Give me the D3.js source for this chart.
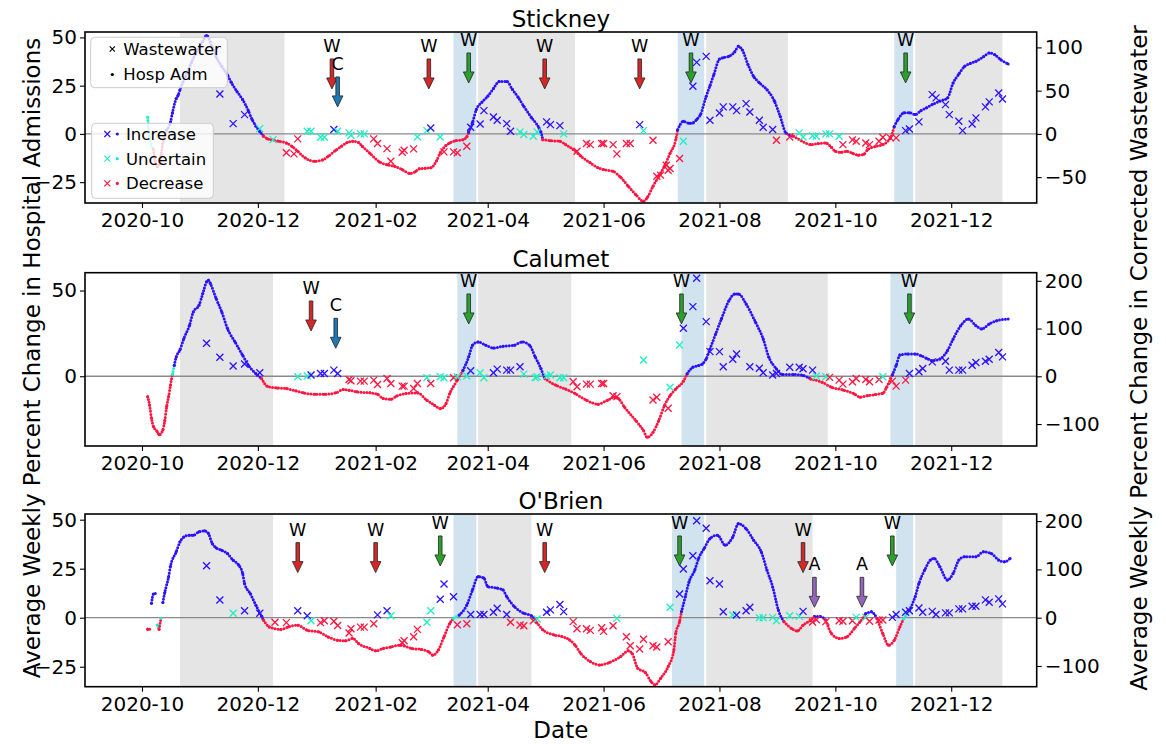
<!DOCTYPE html>
<html>
<head>
<meta charset="utf-8">
<script src="https://cdn.jsdelivr.net/npm/d3@7"></script>
<style>
    body { margin: 0; background: #fff; }
    svg text { font-family: "DejaVu Sans", sans-serif; }
</style>
</head>
<body>
<div id="chart-area"></div>
<script>
/*
*    Weekly percent change: hospital admissions (dots, left axis)
*    vs corrected wastewater (crosses, right axis), three sewersheds
*/

// x tick labels and class labels
let xTicks = ["2020-10", "2020-12", "2021-02", "2021-04", "2021-06", "2021-08", "2021-10", "2021-12"];
let markerLabels = ["Wastewater", "Hosp Adm"];
let classLabels = ["Increase", "Uncertain", "Decrease"];
let classKeys = ["i", "u", "d"];

// hospital admissions: [days after 2020-10-01, % change, optional class]
let stickneyHosp = [[3,8.6,"u"],[4,-2,"u"],[6,-8],[7,-14],[8,-17],[9,-16],[10,-11],[11,-5],[13,2],[15,6.2],[16,10.9],[18,18.3],[19,20],[20,22.9],[23,30],[26,37],[29,43],[32,48],[34,51],[37,45],[39,40],[42,35],[45,30.5],[47,26.7],[50,22],[53,17.8],[56,12],[58,7.4],[60,4],[62,1.3],
  [64,-1.2],[66,-2.5],[68,-3],[72,-3.8],[76,-4.7],[79,-6.5],[82,-9],[86,-12.5],[91,-14.2],[95,-13.5],[98,-11.6],[102,-8.5],[105,-6.4],[108,-4.5],[111,-3.8],[114,-4.5],[116,-6.4],[120,-10],[125,-14.5],[129,-16],[133,-16.8],[137,-18.5],[141,-20.5],[144,-19.5],[146,-18],[149,-17.8],[152,-17.6],[155,-14],[157,-9.8],[160,-6],[162,-4.7],[165,-3.6],[169,-3],[171,-1.5],
  [172,1],[174,6],[176,12.6],[179,16.5],[182,19.5],[185,23.5],[188,27.2],[192,27.2],[195,23],[198,19],[201,14.3],[205,8.5],[209,3.1],[210,1],
  [211,-3],[215,-3.5],[220,-3.8],[223,-5.5],[227,-8.1],[231,-11.5],[236,-15],[240,-17.5],[243,-18.5],[248,-19.4],[252,-22.5],[256,-27.1],[260,-31.5],[264,-34.9],[266,-33],[269,-27.1],[272,-22],[275,-16.8],[278,-10],[281,-3],
  [282,2.2],[285,6.5],[288,5.5],[290,5.7],[292,7.5],[294,10],[297,19.5],[299,25],[301,30.7],[304,38.8],[306,39.5],[309,40.2],[312,42.5],[314,45.4],[316,43.5],[319,36],[322,29.8],[325,26.5],[329,22.9],[333,16.9],[336,9],[339,0.5],
  [343,-1.2],[347,-3.5],[352,-5.5],[356,-5],[360,-4.7],[363,-7],[365,-9],[368,-9.5],[371,-9],[374,-10],[377,-11],[380,-10.5],[382,-8.1],[386,-6.5],[390,-5.5],[394,-2],
  [396,3.9],[398,7.5],[401,10.9],[404,11],[407,10],[410,12],[413,13.5],[416,15.2],[420,17],[424,18.6],[427,26.4],[430,31],[433,35],[436,36.5],[439,37.6],[443,40],[446,41.9],[449,41],[452,38.5],[456,36.2]];

let calumetHosp = [[3,-11.9],[4,-16.8],[5,-24.5],[6,-29.3],[8,-32.2],[9,-34.2],[11,-31.3],[12,-25.9],[13,-17.7],[14,-11.9],[15,-5.1],[16,1.1,"u"],
  [17,6.4],[18,11.2],[20,15.5],[22,21.9],[25,29.7],[27,37.5],[30,41.4],[32,48.2],[34,55.1],[35,56],[36,54.1],[39,45.4],[42,37.5],[45,27.8],[49,20],[53,12.2],[56,6.4],[60,1.5],
  [63,-1.4],[66,-5.9],[71,-6.8],[76,-7.2],[81,-8.5],[85,-9.7],[91,-10.5],[96,-10.5],[102,-9.7],[106,-7.8],[109,-8.2],[113,-9.1],[120,-9.7],[124,-10.5],[127,-13],[131,-13.4],[134,-11.6],[139,-10.1],[145,-9.7],[150,-14],[154,-16.9],[157,-18.9],[160,-16],[162,-10.1],[166,-2.3],
  [169,3.5],[172,11.3],[174,18.1],[177,20],[181,18.1],[185,16.5],[190,17.5],[196,18.1],[200,20],[204,18.1],[207,11.3],[210,4.5],
  [212,-1.4],[218,-5.3],[223,-7.5],[228,-10.1],[234,-14],[240,-16.3],[245,-14],[249,-12.2],[251,-13.2],[254,-18],[260,-25.9],[264,-31.7],[266,-35.6],[269,-32.7],[272,-25.9],[275,-17.2],[278,-11.3],[281,-7.4],[285,-2.9],
  [287,1.4],[290,5.3],[293,6.2],[295,7.2],[297,10.1],[299,15.9],[302,24.7],[305,33.4],[309,44.1],[312,48],[314,48],[318,42.2],[323,31.5],[327,21.8],[330,11.1],[334,4.3],[337,1],[343,1],[348,0.5],
  [352,-1.6],[358,-3.5],[363,-6.4],[369,-8],[375,-10.3],[378,-12.2],[382,-11.3],[386,-10.7],[390,-9.9],[392,-6.4],
  [395,0.8],[397,6.2],[399,12.4],[403,13],[407,13],[410,12],[413,10.5],[416,9.1],[420,10.1],[424,14.9],[427,21.7],[431,29.5],[435,33.4],[439,29.5],[442,27.6],[446,30.5],[450,32.4],[456,33.4]];

let obrienHosp = [[3,-5.9],[4,-5.9],[5,7.4],[6,12.1],[7,12.4],[8,-3.7,"u"],[9,-5.9],[10,-0.3,"u"],
  [11,7.8],[12,12.9],[14,20.8],[15,26.3],[18,33.6],[20,38.7],[22,41.2],[25,42.1],[27,42.1],[30,43.8],[33,44.3],[35,42.9],[37,37.8],[39,35.7],[42,34.4],[45,32.7],[48,29.3],[51,26.7],[53,22.5],[54,17.4],[57,12.3],[60,6.3],[62,2.4],
  [64,-1.3],[67,-4.7],[73,-6],[77,-4.7],[82,-3.8],[87,-6.4],[93,-7.2],[98,-9.8],[103,-11.5],[107,-11.8],[111,-10.6],[114,-13.2],[120,-15.7],[123,-16.9],[127,-15.7],[131,-14.9],[136,-14],[142,-15.7],[147,-16.2],[151,-17.4],[153,-19.1],[156,-16.5],[159,-9.7],[162,-2.9],[164,-0.3,"u"],
  [167,1.4],[171,6.5],[174,14.2],[177,21],[180,20.2],[182,15.9],[187,15.1],[190,14.2],[192,10.8],[196,5.7],[201,2.3],[205,1],
  [207,-1.1],[211,-6.2],[217,-8.8],[221,-9.6],[225,-11.3],[228,-14],[231,-18.2],[236,-22.4],[241,-24.1],[246,-22.9],[252,-19.8],[256,-16.9],[258,-18.2],[261,-25.8],[265,-28],[268,-32.6],[270,-34.3],[273,-30.9],[277,-24.9],[280,-16.5],[281,-7.9],[283,-2],
  [284,3.1],[286,10.7],[288,18.4],[291,24.3],[293,30.2],[296,35.4],[299,40.4],[303,42.1],[307,37],[311,41.2],[314,48],[318,45.4],[322,39.5],[326,33.6],[329,24.3],[332,15.8],[335,3.9],
  [338,-2.1],[342,-5.5],[345,-6.8],[348,-3.8],[352,-1.3],[354,0.6],[357,0.6],[360,-1.3],[363,-8.1],[367,-10.6],[371,-9.8],[375,-5.5],[378,-2.1],[381,2.1],[384,3],
  [387,-0.6],[390,-8.1],[393,-14],[396,-11.5],[399,-4.6],[401,-0.4,"u"],
  [404,3.9],[407,10.7],[409,17.5],[412,24.3],[415,29.4],[417,30.2],[420,26],[424,19.2],[427,22.6],[430,29.4],[433,31.1],[439,31.1],[443,33.6],[447,32.8],[451,29.4],[454,28.5],[457,30.2]];

// wastewater: [days after 2020-10-01, % change, class]
let stickneyWW = [[41,46.2,"i"],[48,11.9,"i"],[54,22.3,"i"],[62,6.1,"u"],[69,-6.6,"u"],[76,-21.9,"d"],[80,-23.1,"d"],[82,-5.8,"d"],[87,3,"u"],[89,3,"u"],[94,-3.9,"u"],[96,-3.9,"u"],[101,5,"i"],[103,3,"u"],[109,1.2,"u"],[110,-1.5,"u"],[115,0,"u"],[117,0,"u"],[122,-5.8,"d"],[124,-11.2,"d"],[129,-17,"d"],[131,-31.6,"d"],[137,-21.2,"d"],[138,-18.9,"d"],[143,-17.3,"d"],[145,-3.5,"u"],[150,3.8,"u"],[152,6.9,"i"],[157,-3.5,"u"],[159,-20.8,"d"],[164,-20.8,"d"],[166,-21.9,"d"],[171,-14.3,"d"],[173,7.6,"i"],[178,11.5,"i"],[180,26.9,"i"],[185,19.6,"i"],[187,15.7,"i"],[192,11.9,"i"],[194,3,"i"],[199,2.3,"u"],[201,-0.8,"u"],[206,-2.8,"u"],[208,2.3,"u"],[213,13.9,"i"],[215,10.7,"i"],[220,9.6,"i"],[222,0,"u"],[229,-20.1,"d"],[234,-11.2,"d"],[236,-12.4,"d"],[242,-11.2,"d"],[243,-11.2,"d"],[248,-12.4,"d"],[250,-23.1,"d"],[255,-11.2,"d"],[257,-11.2,"d"],[262,10.7,"i"],[264,3.8,"u"],[269,-7.4,"d"],[271,-48.9,"d"],[273,-47.7,"d"],[276,-36.2,"d"],[277,-42,"d"],[278,-40,"d"],[283,-28.5,"d"],[285,-8.5,"u"],[290,55,"i"],[292,82.7,"i"],[297,89.6,"i"],[299,15.7,"i"],[304,24.2,"i"],[306,31.2,"i"],[311,31.2,"i"],[313,26.9,"i"],[318,35,"i"],[320,25.4,"i"],[325,15.7,"i"],[327,7.6,"i"],[332,5,"i"],[334,-7.4,"d"],[341,-3.5,"d"],[346,1.2,"u"],[348,-3.5,"u"],[353,-2.3,"u"],[355,-2.8,"u"],[360,0,"u"],[362,0,"u"],[367,-2.8,"u"],[369,-12.4,"d"],[374,-6.9,"d"],[376,-8.5,"d"],[381,-10.5,"d"],[383,-12.4,"d"],[388,-8.5,"d"],[390,-3.9,"d"],[394,-4.6,"d"],[397,-4.6,"d"],[402,3.8,"i"],[404,5.7,"i"],[409,13.9,"i"],[416,45.4,"i"],[418,41.6,"i"],[423,33.8,"i"],[425,22.3,"i"],[430,14.6,"i"],[432,3.8,"i"],[437,11.5,"i"],[439,18.5,"i"],[444,31.2,"i"],[446,37,"i"],[451,47.3,"i"],[453,40.4,"i"]];

let calumetWW = [[34,69.2,"i"],[41,39.8,"i"],[48,21.6,"i"],[54,25.8,"i"],[62,7.6,"i"],[82,-0.8,"u"],[87,0.6,"u"],[89,2.8,"i"],[94,5.9,"i"],[96,5.9,"i"],[101,12.9,"i"],[103,5.9,"i"],[109,-6.6,"d"],[110,-9.4,"d"],[115,-10.1,"d"],[117,-10.1,"d"],[122,-8,"d"],[124,-17.1,"d"],[129,-4.5,"d"],[131,-15,"d"],[137,-20.6,"d"],[138,-20.6,"d"],[143,-25.5,"d"],[145,-15,"d"],[150,-3.1,"u"],[152,-15,"d"],[157,-0.8,"u"],[159,-3.1,"u"],[164,-3.1,"d"],[166,-0.8,"u"],[171,0.6,"u"],[173,11.5,"i"],[178,7.3,"u"],[180,-3.1,"u"],[185,7.3,"i"],[187,15,"i"],[192,12.9,"i"],[194,12.9,"i"],[199,19.9,"i"],[201,4.5,"u"],[207,-3.1,"u"],[208,-0.8,"u"],[213,0.6,"u"],[215,2.8,"u"],[220,-3.1,"u"],[222,-3.1,"u"],[227,-11.5,"d"],[229,-22,"d"],[234,-16.4,"d"],[236,-16.4,"d"],[242,-15,"d"],[243,-15,"d"],[248,-40.6,"d"],[250,-42.5,"d"],[264,34.2,"u"],[269,-49.7,"d"],[271,-44,"d"],[277,-67.1,"d"],[278,-23.1,"u"],[283,65.6,"u"],[285,100.6,"i"],[290,145.9,"i"],[292,205.4,"i"],[297,114.5,"i"],[299,51.6,"i"],[304,51.6,"i"],[306,20.1,"i"],[311,35.6,"i"],[313,46.8,"i"],[320,20.1,"i"],[325,16.8,"i"],[327,7.6,"i"],[332,2.8,"i"],[334,5.9,"i"],[341,18.9,"i"],[346,18.9,"i"],[348,15.7,"i"],[353,12.9,"i"],[355,0.6,"u"],[360,-0.8,"u"],[362,-2.2,"d"],[367,-8,"d"],[369,-16.4,"d"],[374,-11.5,"d"],[376,-4.5,"d"],[381,-6.6,"d"],[383,-11.5,"d"],[388,-6.6,"d"],[390,-0.8,"u"],[395,-10.1,"d"],[397,-20.6,"d"],[402,-8,"d"],[404,5.9,"i"],[409,9.4,"i"],[411,16.3,"i"],[416,30.2,"i"],[423,31.6,"i"],[425,12.9,"i"],[430,12.9,"i"],[432,12.9,"i"],[437,23.3,"i"],[439,28.9,"i"],[444,31.6,"i"],[446,35.8,"i"],[451,49.7,"i"],[453,40.6,"i"]];

let obrienWW = [[34,107.7,"i"],[41,36.6,"i"],[48,9.1,"u"],[54,14.5,"i"],[62,9.1,"i"],[70,-9.5,"d"],[76,-10.2,"d"],[82,14.5,"i"],[87,4.1,"i"],[89,-6.2,"u"],[94,-10.2,"d"],[96,-6.2,"d"],[101,-7.5,"d"],[103,-16.1,"d"],[109,-31.8,"d"],[110,-22.8,"d"],[115,-19.5,"d"],[117,-19.5,"d"],[122,-12.6,"d"],[124,5.9,"i"],[129,14.5,"i"],[131,4.1,"u"],[137,-51.8,"d"],[138,-47.6,"d"],[143,-39.3,"d"],[145,-24.2,"d"],[150,-9.5,"u"],[152,14.5,"u"],[157,38.1,"i"],[159,69.8,"i"],[164,43.5,"i"],[166,-14.5,"d"],[171,-12.6,"d"],[173,6.6,"i"],[178,6.6,"i"],[180,6.6,"i"],[185,11.3,"i"],[187,19.5,"i"],[192,6.6,"i"],[194,-9.5,"d"],[199,-15.3,"d"],[201,-16.7,"d"],[206,-6.2,"d"],[208,-2.7,"u"],[213,11.3,"i"],[215,16.1,"i"],[220,27.2,"i"],[222,12.6,"i"],[227,-8.2,"d"],[229,-22.8,"d"],[234,-22.8,"d"],[236,-26.2,"d"],[242,-20.7,"d"],[243,-28.3,"d"],[248,-16.7,"d"],[250,-1.4,"u"],[255,-39.3,"d"],[257,-58,"d"],[262,-64.8,"d"],[264,-44.7,"d"],[269,-58,"d"],[271,-60.7,"d"],[277,-49.7,"d"],[278,21.5,"u"],[283,49.1,"i"],[285,100.8,"i"],[290,128.4,"i"],[292,200.8,"i"],[297,185.1,"i"],[299,76.6,"i"],[304,69.8,"i"],[306,12.4,"i"],[311,5.6,"u"],[313,5.6,"i"],[318,14.5,"i"],[320,21.5,"i"],[325,0,"u"],[327,0,"u"],[332,0.7,"u"],[334,-6.2,"u"],[341,4.1,"u"],[346,2.8,"u"],[348,13.1,"i"],[353,-8.8,"d"],[355,-4.1,"d"],[360,-8.2,"d"],[367,-6.2,"d"],[369,-7.5,"d"],[374,-6.2,"d"],[376,0.7,"u"],[381,0.7,"u"],[383,-7.5,"d"],[388,-4.8,"d"],[390,-4.8,"d"],[395,0.7,"i"],[397,6.6,"i"],[402,11.3,"i"],[404,14.5,"i"],[409,20,"i"],[411,11.3,"i"],[416,13.1,"i"],[418,6.6,"i"],[423,10,"i"],[425,10,"i"],[430,18.2,"i"],[432,18.2,"i"],[437,23.7,"i"],[439,23.7,"i"],[444,36.8,"i"],[446,32,"i"],[451,38.9,"i"],[453,28.6,"i"]];

// shaded periods
let stickneyGrey = [["2020-10-21","2020-12-15"],["2021-03-27","2021-05-17"],["2021-07-25","2021-09-06"],["2021-11-12","2021-12-28"]];
let stickneyBlue = [["2021-03-14","2021-03-26"],["2021-07-10","2021-07-24"],["2021-11-01","2021-11-11"]];
let calumetGrey = [["2020-10-21","2020-12-09"],["2021-03-27","2021-05-15"],["2021-07-25","2021-09-27"],["2021-11-12","2021-12-28"]];
let calumetBlue = [["2021-03-16","2021-03-26"],["2021-07-12","2021-07-24"],["2021-10-30","2021-11-11"]];
let obrienGrey = [["2020-10-21","2020-12-09"],["2021-03-27","2021-04-24"],["2021-07-25","2021-09-19"],["2021-11-12","2021-12-28"]];
let obrienBlue = [["2021-03-14","2021-03-26"],["2021-07-07","2021-07-24"],["2021-11-02","2021-11-11"]];

// annotations: [date, label, kind, arrow tip on left axis]
let stickneyArrows = [["2021-01-09","W","red",23.3],["2021-01-12","C","blue",14],["2021-03-01","W","red",23.3],["2021-03-22","W","green",26.4],["2021-05-01","W","red",23.3],["2021-06-20","W","red",23.3],["2021-07-17","W","green",26.4],["2021-11-07","W","green",26.4]];
let calumetArrows = [["2020-12-29","W","red",26.4],["2021-01-11","C","blue",16.3],["2021-03-22","W","green",30.5],["2021-07-12","W","green",30.5],["2021-11-09","W","green",30.5]];
let obrienArrows = [["2020-12-22","W","red",23],["2021-02-01","W","red",23],["2021-03-07","W","green",26.4],["2021-05-01","W","red",23],["2021-07-11","W","green",26.4],["2021-09-14","W","red",23],["2021-09-20","A","purple",5.3],["2021-10-15","A","purple",5.3],["2021-10-31","W","green",26.4]];

let stickneyLeftTicks = [-25, 0, 25, 50], stickneyRightTicks = [-50, 0, 50, 100];
let calumetLeftTicks = [0, 50], calumetRightTicks = [-100, 0, 100, 200];
let obrienLeftTicks = [-25, 0, 25, 50], obrienRightTicks = [-100, 0, 100, 200];

const parseDate = d3.timeParse("%Y-%m-%d");
const parseMonth = d3.timeParse("%Y-%m");
const dayZero = parseDate("2020-10-01");
const toDate = (n) => d3.timeDay.offset(dayZero, n);

const classColor = { i: "#2c12ff", u: "#1ff0c4", d: "#ff1640" };
const arrowColor = { red: "#d62728", green: "#2ca02c", blue: "#1f77b4", purple: "#9467bd" };

let left = 85, right = 1036.7;

let panels = [
    { title: "Stickney", hosp: stickneyHosp, ww: stickneyWW, grey: stickneyGrey, blue: stickneyBlue, arrows: stickneyArrows,
      lTicks: stickneyLeftTicks, rTicks: stickneyRightTicks, lDom: [-35.8, 52.8], rDom: [-79.9, 117.8], top: 32, bottom: 203 },
    { title: "Calumet", hosp: calumetHosp, ww: calumetWW, grey: calumetGrey, blue: calumetBlue, arrows: calumetArrows,
      lTicks: calumetLeftTicks, rTicks: calumetRightTicks, lDom: [-40.7, 60.4], rDom: [-146, 217], top: 272.7, bottom: 446 },
    { title: "O'Brien", hosp: obrienHosp, ww: obrienWW, grey: obrienGrey, blue: obrienBlue, arrows: obrienArrows,
      lTicks: obrienLeftTicks, rTicks: obrienRightTicks, lDom: [-35.2, 52.9], rDom: [-142.9, 214.7], top: 514, bottom: 686.7 }
];

let svg = d3.select("#chart-area")
    .append("svg")
        .attr("width", 1166)
        .attr("height", 744);

let x = d3.scaleTime()
    .domain([parseDate("2020-09-01"), parseDate("2022-01-15")])
    .range([left, right]);

const crossPath = "M-3.5,-3.5L3.5,3.5M-3.5,3.5L3.5,-3.5";

panels.forEach((p, idx) => {
    let yL = d3.scaleLinear().domain(p.lDom).range([p.bottom, p.top]);
    let yR = d3.scaleLinear().domain(p.rDom).range([p.bottom, p.top]);
    let h = p.bottom - p.top;

    svg.append("clipPath").attr("id", "clip" + idx)
        .append("rect").attr("x", left).attr("y", p.top).attr("width", right - left).attr("height", h);

    let plot = svg.append("g").attr("clip-path", `url(#clip${idx})`);

    // shaded periods
    plot.selectAll("rect.grey").data(p.grey).enter()
        .append("rect")
            .attr("x", d => x(parseDate(d[0])))
            .attr("width", d => x(parseDate(d[1])) - x(parseDate(d[0])))
            .attr("y", p.top).attr("height", h)
            .attr("fill", "#e5e5e5");
    plot.selectAll("rect.blue").data(p.blue).enter()
        .append("rect")
            .attr("x", d => x(parseDate(d[0])))
            .attr("width", d => x(parseDate(d[1])) - x(parseDate(d[0])))
            .attr("y", p.top).attr("height", h)
            .attr("fill", "#d2e3f0");

    plot.append("line")
        .attr("x1", left).attr("x2", right)
        .attr("y1", yL(0)).attr("y2", yL(0))
        .attr("stroke", "#8a8a8a").attr("stroke-width", 1.3);

    // hospital admissions, split into runs of one class
    let pts = p.hosp.map(d => ({ date: toDate(d[0]), v: d[1], c: d[2] || (d[1] >= 0 ? "i" : "d") }));
    let runs = [];
    pts.forEach((d, k) => {
        if (k === 0 || d.c !== pts[k - 1].c) runs.push({ c: d.c, pts: [] });
        runs[runs.length - 1].pts.push(d);
    });
    runs.forEach((r, k) => {
        let next = runs[k + 1];
        if (next) {
            let a = r.pts[r.pts.length - 1], b = next.pts[0];
            if (Math.abs(a.v - b.v) < 8) r.pts.push(b);
        }
    });
    let line = d3.line()
        .x(d => x(d.date))
        .y(d => yL(d.v))
        .curve(d3.curveMonotoneX);

    plot.selectAll("path.hosp").data(runs).enter()
        .append("path")
            .attr("d", r => line(r.pts))
            .attr("fill", "none")
            .attr("stroke", r => classColor[r.c])
            .attr("stroke-width", 3)
            .attr("stroke-linecap", "round")
            .attr("stroke-dasharray", "0 3");
    plot.selectAll("circle.hosp").data(pts).enter()
        .append("circle")
            .attr("cx", d => x(d.date))
            .attr("cy", d => yL(d.v))
            .attr("r", 1.5)
            .attr("fill", d => classColor[d.c]);

    // wastewater crosses
    plot.selectAll("path.ww").data(p.ww).enter()
        .append("path")
            .attr("d", crossPath)
            .attr("transform", d => `translate(${x(toDate(d[0]))}, ${yR(d[1])})`)
            .attr("fill", "none")
            .attr("stroke", d => classColor[d[2]])
            .attr("stroke-width", 1.3);

    // arrows
    p.arrows.forEach(a => {
        let ax = x(parseDate(a[0])), ay = yL(a[3]);
        let tail = ay - 30;
        svg.append("path")
            .attr("d", `M${ax - 1.8},${tail}L${ax + 1.8},${tail}L${ax + 1.8},${ay - 11}L${ax + 5.3},${ay - 11}L${ax},${ay}L${ax - 5.3},${ay - 11}L${ax - 1.8},${ay - 11}Z`)
            .attr("fill", arrowColor[a[2]])
            .attr("stroke", "#222")
            .attr("stroke-width", 0.8);
        svg.append("text")
            .attr("x", ax)
            .attr("y", tail - 7)
            .attr("text-anchor", "middle")
            .attr("font-size", "17.5px")
            .text(a[1]);
    });

    // axes
    let xAxisCall = d3.axisBottom(x)
        .tickValues(xTicks.map(parseMonth))
        .tickFormat(d3.timeFormat("%Y-%m"))
        .tickSize(5).tickPadding(5);
    let yLeftCall = d3.axisLeft(yL).tickValues(p.lTicks).tickFormat(d3.format("d")).tickSize(5).tickPadding(3);
    let yRightCall = d3.axisRight(yR).tickValues(p.rTicks).tickFormat(d3.format("d")).tickSize(5).tickPadding(3);

    [[xAxisCall, `translate(0, ${p.bottom})`], [yLeftCall, `translate(${left}, 0)`], [yRightCall, `translate(${right}, 0)`]]
        .forEach(([call, tr]) => {
            let ag = svg.append("g")
                .attr("transform", tr)
                .call(call);
            ag.select(".domain").remove();
            ag.attr("font-size", 20).attr("font-family", "DejaVu Sans");
            ag.selectAll(".tick line").attr("stroke", "#000").attr("stroke-width", 1.1);
        });

    svg.append("rect")
        .attr("x", left).attr("y", p.top)
        .attr("width", right - left).attr("height", h)
        .attr("fill", "none")
        .attr("stroke", "#000")
        .attr("stroke-width", 1.6);

    svg.append("text")
        .attr("x", (left + right) / 2)
        .attr("y", p.top - 5.5)
        .attr("text-anchor", "middle")
        .attr("font-size", "23px")
        .text(p.title);

    if (idx === 0) {
        // marker legend
        let lg = svg.append("g");
        lg.append("rect")
            .attr("x", 90.7).attr("y", 37.3).attr("width", 136.6).attr("height", 50.4).attr("rx", 4)
            .attr("fill", "#fff").attr("fill-opacity", 0.8).attr("stroke", "#cccccc");
        markerLabels.forEach((t, k) => {
            let yy = 49 + k * 25.5;
            if (k === 0) {
                lg.append("path").attr("d", "M-2.6,-2.6L2.6,2.6M-2.6,2.6L2.6,-2.6")
                    .attr("transform", `translate(112.3, ${yy})`).attr("stroke", "#000").attr("stroke-width", 1.1);
            } else {
                lg.append("circle").attr("cx", 112.3).attr("cy", yy).attr("r", 1.6).attr("fill", "#000");
            }
            lg.append("text").attr("x", 123.3).attr("y", yy).attr("dy", "0.36em")
                .attr("font-size", "16.5px").text(t);
        });
        // class legend
        lg.append("rect")
            .attr("x", 91.7).attr("y", 123.3).attr("width", 121.6).attr("height", 75).attr("rx", 4)
            .attr("fill", "#fff").attr("fill-opacity", 0.8).attr("stroke", "#cccccc");
        classLabels.forEach((t, k) => {
            let yy = 134 + k * 24.7;
            lg.append("path").attr("d", "M-3,-3L3,3M-3,3L3,-3")
                .attr("transform", `translate(107.3, ${yy})`)
                .attr("stroke", classColor[classKeys[k]]).attr("stroke-width", 1.2);
            lg.append("circle").attr("cx", 117.3).attr("cy", yy).attr("r", 1.6).attr("fill", classColor[classKeys[k]]);
            lg.append("text").attr("x", 126).attr("y", yy).attr("dy", "0.36em")
                .attr("font-size", "16.5px").text(t);
        });
    }
});

svg.append("text")
    .attr("transform", "translate(40, 358) rotate(-90)")
    .attr("text-anchor", "middle")
    .attr("font-size", "23px")
    .text("Average Weekly Percent Change in Hospital Admissions");

svg.append("text")
    .attr("transform", "translate(1147, 358) rotate(-90)")
    .attr("text-anchor", "middle")
    .attr("font-size", "23px")
    .text("Average Weekly Percent Change in Corrected Wastewater");

svg.append("text")
    .attr("x", (left + right) / 2)
    .attr("y", 738)
    .attr("text-anchor", "middle")
    .attr("font-size", "23px")
    .text("Date");
</script>
</body>
</html>
